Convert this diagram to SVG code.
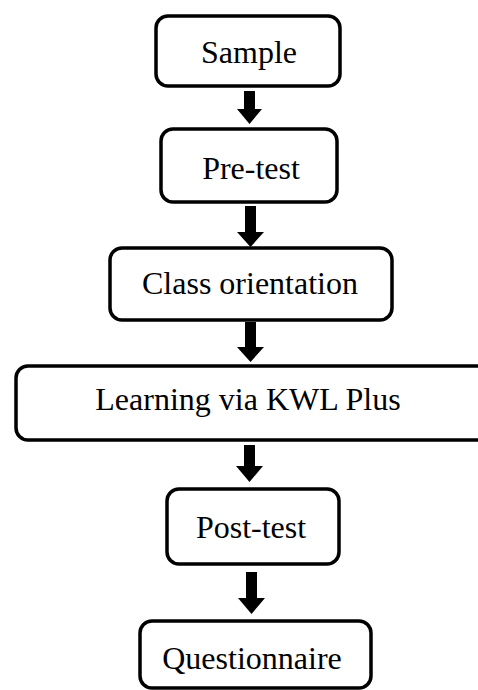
<svg xmlns="http://www.w3.org/2000/svg" width="478" height="690" viewBox="0 0 478 690">
<style>
.box{fill:#fff;stroke:#000;stroke-width:3.5}
.lbl{font-family:"Liberation Serif","Times New Roman",serif;font-size:32px;fill:#000;text-anchor:middle}
.arr{fill:#000;stroke:none}
</style>
<rect width="478" height="690" fill="#fff"/>
<g id="connectors">
<path class="arr" d="M244,91 H255 V109 H262 L249.5,124 L237,109 H244 Z"/>
<path class="arr" d="M245,206 H256 V232 H264 L250.5,247 L237,232 H245 Z"/>
<path class="arr" d="M245,322 H256 V347 H264 L250.5,362 L237,347 H245 Z"/>
<path class="arr" d="M244,445 H255 V466 H263 L249.5,482 L236,466 H244 Z"/>
<path class="arr" d="M246,572 H257 V598 H265 L251.5,614 L238,598 H246 Z"/>
</g>
<g id="sample"><rect class="box" x="156" y="16" width="184" height="70" rx="12"/><text class="lbl" x="249" y="63">Sample</text></g>
<g id="pretest"><rect class="box" x="161" y="129" width="176" height="73" rx="12"/><text class="lbl" x="251" y="179">Pre-test</text></g>
<g id="class"><rect class="box" x="110" y="248" width="282" height="72" rx="12"/><text class="lbl" x="250" y="294">Class orientation</text></g>
<g id="learning"><rect class="box" x="16" y="366" width="474" height="74" rx="12"/><text class="lbl" x="248" y="410">Learning via KWL Plus</text></g>
<g id="posttest"><rect class="box" x="167" y="489" width="172" height="75" rx="12"/><text class="lbl" x="251" y="538">Post-test</text></g>
<g id="questionnaire"><rect class="box" x="140" y="621" width="231" height="67" rx="12"/><text class="lbl" x="252" y="669">Questionnaire</text></g>
</svg>
